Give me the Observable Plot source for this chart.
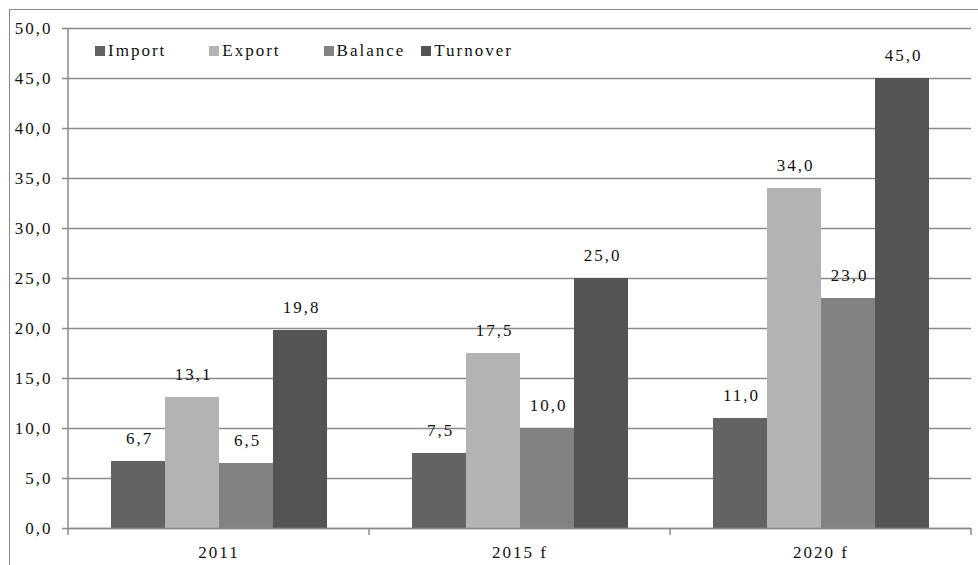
<!DOCTYPE html>
<html>
<head>
<meta charset="utf-8">
<script src="https://cdn.jsdelivr.net/npm/d3@7"></script>
<script src="https://cdn.jsdelivr.net/npm/@observablehq/plot@0.6"></script>
<style>
  html, body { margin: 0; padding: 0; background: #fff; }
  #wrap { position: relative; width: 978px; height: 565px; overflow: hidden; font-family: 'Liberation Serif', serif; }
  #frame { position: absolute; left: 9px; top: 9px; width: 980px; height: 600px; border-left: 1.5px solid #8a8a8a; border-top: 1.5px solid #8a8a8a; box-sizing: border-box; pointer-events: none; }
  #legend { position: absolute; left: 95px; top: 41px; display: flex; font-family: 'Liberation Serif', serif; font-size: 17px; letter-spacing: 2px; color: #111; }
  #legend .item { display: flex; align-items: center; }
  #legend .sw { width: 10px; height: 10px; margin-right: 3px; }
  #chart { position: absolute; left: 0; top: 0; }
  #chart svg text { letter-spacing: 2px; font-family: 'Liberation Serif', serif; }
</style>
</head>
<body>
<div id="wrap">
  <div id="chart"></div>
  <div id="frame"></div>
  <div id="legend"></div>
</div>
<script>
const categories = ["2011", "2015 f", "2020 f"];
const series = ["Import", "Export", "Balance", "Turnover"];
const importValues = [6.7, 7.5, 11.0];
const exportValues = [13.1, 17.5, 34.0];
const balanceValues = [6.5, 10.0, 23.0];
const turnoverValues = [19.8, 25.0, 45.0];
const colors = ["#636363", "#b3b3b3", "#828282", "#545454"];
const yTicks = [0, 5, 10, 15, 20, 25, 30, 35, 40, 45, 50];

const valuesBySeries = [importValues, exportValues, balanceValues, turnoverValues];
const data = [];
categories.forEach((c, i) => {
  series.forEach((s, j) => data.push({category: c, series: s, value: valuesBySeries[j][i]}));
});

const fmt = v => v.toFixed(1).replace(".", ",");
const grid = "#8a8a8a";

const plot = Plot.plot({
  width: 978,
  height: 565,
  marginLeft: 68,
  marginRight: 7,
  marginTop: 28,
  marginBottom: 37,
  style: {fontFamily: "'Liberation Serif', serif", fontSize: "17px", color: "#111", background: "transparent"},
  fx: {domain: categories, paddingInner: 0, paddingOuter: 0, label: null},
  x: {domain: series, paddingInner: 0, paddingOuter: 0.75, axis: null},
  y: {domain: [0, 50], ticks: yTicks, label: null},
  color: {domain: series, range: colors},
  marks: [
    Plot.gridY(yTicks, {stroke: grid, strokeOpacity: 1, strokeWidth: 1.5}),
    Plot.barY(data, {fx: "category", x: "series", y: "value", fill: "series"}),
    Plot.text(data, {fx: "category", x: "series", y: "value", text: d => fmt(d.value), lineAnchor: "bottom", dy: -18, dx: 1, fontSize: 17, fill: "#111"}),
    Plot.axisY(yTicks, {tickFormat: fmt, tickSize: 6, tickPadding: 10, stroke: grid, strokeWidth: 1.5, fontSize: 17, fill: "#111"}),
    Plot.axisFx({anchor: "bottom", tickSize: 0, tickPadding: 17, fontSize: 17, fill: "#111", label: null}),
    Plot.ruleY([0], {stroke: grid, strokeWidth: 1.5}),
  ]
});
document.getElementById("chart").appendChild(plot);

// axis line and category boundary ticks, positioned from the fx scale
const fxs = plot.scale("fx");
const ys = plot.scale("y");
const svg = d3.select(plot);
const y0 = ys.apply(0), y50 = ys.apply(50);
const step = fxs.step;
const edges = categories.map(c => fxs.apply(c));
edges.push(fxs.apply(categories[categories.length - 1]) + step);
const g = svg.append("g").attr("stroke", grid).attr("stroke-width", 1.5);
g.append("line").attr("x1", edges[0]).attr("x2", edges[0]).attr("y1", y50).attr("y2", y0 + 7);
edges.slice(1).forEach(x => {
  g.append("line").attr("x1", x).attr("x2", x).attr("y1", y0).attr("y2", y0 + 7);
});

// legend
const legend = document.getElementById("legend");
const gaps = [43, 43, 16, 0];
series.forEach((s, i) => {
  const item = document.createElement("div");
  item.className = "item";
  item.style.marginRight = gaps[i] + "px";
  const sw = document.createElement("span");
  sw.className = "sw";
  sw.style.background = colors[i];
  const t = document.createElement("span");
  t.textContent = s;
  item.appendChild(sw);
  item.appendChild(t);
  legend.appendChild(item);
});
</script>
</body>
</html>
